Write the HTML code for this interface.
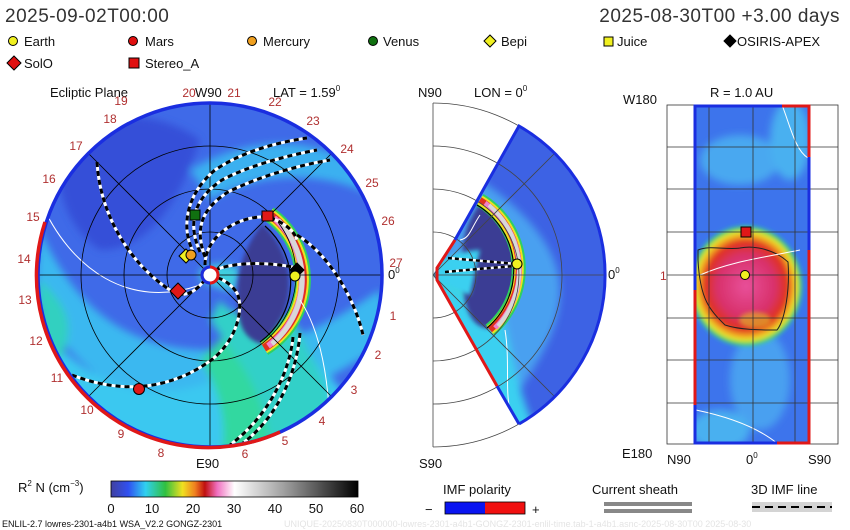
<!DOCTYPE html>
<html><head><meta charset="utf-8"><style>
body{margin:0;background:#fff;}
svg{display:block;font-family:"Liberation Sans","DejaVu Sans",sans-serif;}
</style></head><body>
<svg width="850" height="530" viewBox="0 0 850 530" xmlns="http://www.w3.org/2000/svg">
<defs>
<filter id="bl" x="-20%" y="-20%" width="140%" height="140%"><feGaussianBlur stdDeviation="4"/></filter>
<filter id="bl2" x="-20%" y="-20%" width="140%" height="140%"><feGaussianBlur stdDeviation="2"/></filter>
<clipPath id="disk"><circle cx="210" cy="275" r="172"/></clipPath>
<clipPath id="wedge"><path d="M433,275 L519,126 A172,172 0 0 1 519,424 Z"/></clipPath>
<clipPath id="rbox"><rect x="694" y="105" width="115" height="339"/></clipPath>
<radialGradient id="blob" cx="0.5" cy="0.5" r="0.5">
<stop offset="0" stop-color="#e8509a"/><stop offset="0.5" stop-color="#d8306a"/><stop offset="0.7" stop-color="#e03020"/><stop offset="0.8" stop-color="#f0a020"/><stop offset="0.88" stop-color="#e8e830"/><stop offset="0.94" stop-color="#30d060"/><stop offset="1" stop-color="#30c8e8" stop-opacity="0"/>
</radialGradient>
<linearGradient id="cb" x1="0" x2="1">
<stop offset="0" stop-color="#4040a0"/><stop offset="0.07" stop-color="#3050f0"/><stop offset="0.14" stop-color="#30d0f0"/><stop offset="0.22" stop-color="#30c040"/><stop offset="0.29" stop-color="#f0e020"/><stop offset="0.34" stop-color="#f08020"/><stop offset="0.38" stop-color="#c01010"/><stop offset="0.43" stop-color="#f070c0"/><stop offset="0.5" stop-color="#ffffff"/><stop offset="0.7" stop-color="#a0a0a0"/><stop offset="1" stop-color="#000"/>
</linearGradient>
</defs>

<text x="5" y="22" font-size="19" fill="#333" letter-spacing="0.5">2025-09-02T00:00</text>
<text x="840" y="22" font-size="19" fill="#333" text-anchor="end" letter-spacing="0.5">2025-08-30T00 +3.00 days</text>

<g font-size="13" fill="#111" stroke="#000" stroke-width="1">
<circle cx="13" cy="41" r="4.5" fill="#f0f020"/><circle cx="133" cy="41" r="4.5" fill="#e01010"/><circle cx="252" cy="41" r="4.5" fill="#f0a020"/><circle cx="373" cy="41" r="4.5" fill="#107010"/>
<path d="M490,35 L496,41 L490,47 L484,41Z" fill="#f0f020"/><rect x="604" y="37" width="9" height="9" fill="#f0f020"/><path d="M730,35 L736,41 L730,47 L724,41Z" fill="#000"/>
<path d="M14,56 L21,63 L14,70 L7,63Z" fill="#e01010"/><rect x="129" y="58" width="10" height="10" fill="#e01010"/>
</g>
<g font-size="13" fill="#111">
<text x="24" y="46">Earth</text><text x="145" y="46">Mars</text><text x="263" y="46">Mercury</text><text x="383" y="46">Venus</text><text x="501" y="46">Bepi</text><text x="617" y="46">Juice</text><text x="737" y="46">OSIRIS-APEX</text>
<text x="24" y="68">SolO</text><text x="145" y="68">Stereo_A</text>
</g>

<g font-size="13" fill="#111">
<text x="50" y="97">Ecliptic Plane</text><text x="195" y="97">W90</text><text x="273" y="97">LAT = 1.59<tspan font-size="8" dy="-6">0</tspan></text>
<text x="418" y="97">N90</text><text x="474" y="97">LON = 0<tspan font-size="8" dy="-6">0</tspan></text>
<text x="623" y="104">W180</text><text x="710" y="97">R = 1.0 AU</text>
<text x="196" y="468">E90</text><text x="419" y="468">S90</text>
<text x="622" y="458">E180</text><text x="667" y="464">N90</text><text x="746" y="464">0<tspan font-size="8" dy="-6">0</tspan></text><text x="808" y="464">S90</text>
<text x="388" y="279">0<tspan font-size="8" dy="-6">0</tspan></text>
<text x="608" y="279">0<tspan font-size="8" dy="-6">0</tspan></text>
</g>

<!-- LEFT DISK -->
<g clip-path="url(#disk)">
<rect x="30" y="100" width="360" height="360" fill="#3f6ae8"/>
<g filter="url(#bl)">
<path d="M40,230 C80,320 140,350 210,350 C280,350 320,330 380,290 L390,340 C330,380 260,420 180,410 C110,400 60,350 35,300Z" fill="#3ab8f0"/>
<path d="M45,330 C100,400 180,410 250,360 C280,330 330,360 360,420 L300,470 L60,470Z" fill="#3ac8f0"/>
<path d="M230,330 C250,380 270,420 290,450 L220,460 C230,420 215,380 200,360Z" fill="#30d8a0"/>
<path d="M190,170 C240,140 310,130 360,170 L380,200 C330,170 260,170 210,200Z" fill="#3ab0f0"/>
<path d="M220,300 C240,330 280,300 300,330 C310,360 330,380 330,410 L270,440 C260,380 230,350 210,320Z" fill="#30d0c8"/>
<path d="M60,130 C100,110 160,110 200,140 C180,200 150,250 100,250 C70,230 50,190 60,130Z" fill="#3550d8"/>
<path d="M200,270 C215,262 230,262 240,270 L235,290 C225,292 212,285 200,280Z" fill="#40d0e0"/>
<path d="M40,280 C60,300 80,320 60,360 L40,340Z" fill="#30d0c0"/>
</g>
<path d="M262,224 A80,80 0 0 1 262,344 C245,340 238,325 238,305 C236,285 238,255 262,224Z" fill="#3a3c94" filter="url(#bl2)"/>
<g fill="none">
<path d="M269,214 A80,80 0 0 1 264,348" stroke="#30d060" stroke-width="16"/>
<path d="M269,214 A80,80 0 0 1 264,348" stroke="#f0e020" stroke-width="12"/>
<path d="M269,214 A80,80 0 0 1 264,348" stroke="#e03020" stroke-width="8"/>
<path d="M274,218 A82,82 0 0 1 268,346" stroke="#f080c8" stroke-width="6"/>
<path d="M278,220 A85,85 0 0 1 272,344" stroke="#d8d8d8" stroke-width="5"/>
<path d="M265,226 A74,74 0 0 1 260,342" stroke="#000" stroke-width="1.2"/>
</g>
<g fill="none" stroke="#fff" stroke-width="1">
<path d="M40,200 C70,270 130,310 200,285"/>
<path d="M300,300 C320,330 330,380 330,440"/>
</g>
<g fill="none" stroke="#000" stroke-width="0.8">
<circle cx="210" cy="275" r="43"/><circle cx="210" cy="275" r="86"/><circle cx="210" cy="275" r="129"/>
<line x1="38" y1="275" x2="382" y2="275"/><line x1="210" y1="103" x2="210" y2="447"/>
<line x1="88" y1="153" x2="332" y2="397"/><line x1="88" y1="397" x2="332" y2="153"/>
</g>
<g fill="none" stroke-width="3">
<g stroke="#fff">
<path d="M97,162 C100,215 130,265 173,292 C190,300 200,285 205,280"/>
<path d="M72,375 C110,390 160,395 207,363 C235,345 245,310 237,293 C230,282 220,278 212,276"/>
<path d="M195,255 C180,230 185,195 215,170 C245,150 280,142 307,138"/>
<path d="M200,252 C188,225 192,200 222,180 C250,165 290,155 317,150"/>
<path d="M205,257 C195,230 200,210 228,192 C260,176 300,165 330,160"/>
<path d="M205,265 C205,235 240,215 267,217 C285,222 295,232 297,240"/>
<path d="M297,235 C330,255 355,300 363,335"/>
<path d="M215,270 C235,262 265,262 293,267"/>
<path d="M293,337 C290,370 270,415 230,445"/>
<path d="M300,333 C297,370 280,415 243,443"/>
</g>
<g stroke="#000" stroke-dasharray="5,4">
<path d="M97,162 C100,215 130,265 173,292 C190,300 200,285 205,280"/>
<path d="M72,375 C110,390 160,395 207,363 C235,345 245,310 237,293 C230,282 220,278 212,276"/>
<path d="M195,255 C180,230 185,195 215,170 C245,150 280,142 307,138"/>
<path d="M200,252 C188,225 192,200 222,180 C250,165 290,155 317,150"/>
<path d="M205,257 C195,230 200,210 228,192 C260,176 300,165 330,160"/>
<path d="M205,265 C205,235 240,215 267,217 C285,222 295,232 297,240"/>
<path d="M297,235 C330,255 355,300 363,335"/>
<path d="M215,270 C235,262 265,262 293,267"/>
<path d="M293,337 C290,370 270,415 230,445"/>
<path d="M300,333 C297,370 280,415 243,443"/>
</g>
</g>
</g>
<circle cx="210" cy="275" r="172" fill="none" stroke="#1a2ee0" stroke-width="3.5"/>
<path d="M45,222 A172,172 0 0 0 280,432" fill="none" stroke="#e01818" stroke-width="3.5"/>
<circle cx="210" cy="275" r="8" fill="#fff" stroke="#e01818" stroke-width="3"/>
<path d="M210,267 A8,8 0 0 0 210,283" fill="none" stroke="#1a2ee0" stroke-width="3"/>
<g stroke="#000" stroke-width="1">
<path d="M186,249 L193,256 L186,263 L179,256Z" fill="#f0f020"/>
<circle cx="191" cy="255" r="5" fill="#f0a020"/>
<rect x="190" y="210" width="10" height="10" fill="#107010"/>
<rect x="262" y="211" width="11" height="10" fill="#e01818"/>
<path d="M178,283 L186,291 L178,299 L170,291Z" fill="#e01818"/>
<circle cx="139" cy="389" r="5.5" fill="#e01818"/>
<path d="M297,263 L304,270 L297,277 L290,270Z" fill="#000"/>
<circle cx="295" cy="276" r="5" fill="#f0f020"/>
</g>
<g font-size="12" fill="#b03030" text-anchor="middle">
<text x="121" y="105">19</text><text x="189" y="97">20</text><text x="234" y="97">21</text><text x="275" y="106">22</text><text x="313" y="125">23</text><text x="347" y="153">24</text><text x="372" y="187">25</text><text x="388" y="225">26</text><text x="396" y="267">27</text>
<text x="393" y="320">1</text><text x="378" y="359">2</text><text x="354" y="394">3</text><text x="322" y="425">4</text><text x="285" y="445">5</text><text x="245" y="458">6</text><text x="161" y="457">8</text><text x="121" y="438">9</text><text x="87" y="414">10</text><text x="57" y="382">11</text><text x="36" y="345">12</text><text x="25" y="304">13</text><text x="24" y="263">14</text><text x="33" y="221">15</text><text x="49" y="183">16</text><text x="76" y="150">17</text><text x="110" y="123">18</text>
</g>

<!-- MIDDLE WEDGE -->
<g fill="none" stroke="#444" stroke-width="0.8">
<path d="M433,232 A43,43 0 0 1 433,318"/><path d="M433,189 A86,86 0 0 1 433,361"/><path d="M433,146 A129,129 0 0 1 433,404"/><path d="M433,103 A172,172 0 0 1 433,447"/>
<line x1="433" y1="103" x2="433" y2="447"/>
</g>
<g clip-path="url(#wedge)">
<rect x="430" y="100" width="180" height="350" fill="#3d62e4"/>
<g filter="url(#bl)">
<path d="M433,275 L480,180 C540,220 560,260 560,290 C560,330 540,360 500,420 L433,280Z" fill="#48a0f0"/>
<path d="M433,275 L500,300 C510,350 520,400 540,440 L470,440 Z" fill="#3ad0f0"/>
<path d="M433,275 L470,250 L470,300Z" fill="#40d8d0"/>
</g>
<path d="M480,203 A79,79 0 0 1 490,328 C470,330 460,300 465,275 C460,250 462,230 480,203Z" fill="#3a3c94" filter="url(#bl2)"/>
<path d="M436,262 C450,255 470,250 480,250 L470,295 C455,290 445,285 436,280Z" fill="#3ad0f0" filter="url(#bl2)"/>
<g fill="none">
<path d="M480,200 A80,80 0 0 1 490,330" stroke="#30d060" stroke-width="14"/>
<path d="M480,200 A80,80 0 0 1 490,330" stroke="#f0e020" stroke-width="10"/>
<path d="M480,200 A80,80 0 0 1 490,330" stroke="#e03020" stroke-width="6"/>
<path d="M485,203 A82,82 0 0 1 495,328" stroke="#f080c8" stroke-width="5"/>
<path d="M489,205 A85,85 0 0 1 498,326" stroke="#d8d8d8" stroke-width="4"/>
<path d="M477,205 A76,76 0 0 1 487,328" stroke="#000" stroke-width="1.2"/>
<path d="M480,215 C470,230 470,238 460,240" stroke="#fff" stroke-width="1"/>
<path d="M505,330 C510,360 505,390 510,410" stroke="#fff" stroke-width="1"/>
</g>
<g fill="none" stroke="#444" stroke-width="0.8">
<path d="M433,232 A43,43 0 0 1 433,318"/><path d="M433,189 A86,86 0 0 1 433,361"/><path d="M433,146 A129,129 0 0 1 433,404"/>
<line x1="433" y1="275" x2="610" y2="275"/><line x1="433" y1="275" x2="560" y2="148"/><line x1="433" y1="275" x2="560" y2="402"/>
</g>
<g fill="none" stroke-width="2.5">
<path d="M448,258 C470,260 495,262 517,264" stroke="#fff"/><path d="M448,258 C470,260 495,262 517,264" stroke="#000" stroke-dasharray="4,3"/>
<path d="M445,272 C465,270 490,268 515,266" stroke="#fff"/><path d="M445,272 C465,270 490,268 515,266" stroke="#000" stroke-dasharray="4,3"/>
</g>
</g>
<path d="M455,240 L519,126 A172,172 0 0 1 519,424" fill="none" stroke="#1a2ee0" stroke-width="3"/>
<path d="M519,424 L497,386" fill="none" stroke="#1a2ee0" stroke-width="3"/>
<path d="M455,240 L437,268 L437,280 L497,386" fill="none" stroke="#e01818" stroke-width="3"/>
<circle cx="517" cy="264" r="5" fill="#f0f020" stroke="#000"/>

<!-- RIGHT PANEL -->
<g clip-path="url(#rbox)">
<rect x="694" y="105" width="115" height="339" fill="#3d74ec"/>
<g filter="url(#bl)">
<ellipse cx="740" cy="160" rx="40" ry="25" fill="#48a8f0"/>
<ellipse cx="790" cy="140" rx="20" ry="40" fill="#48b0f0"/>
<ellipse cx="760" cy="380" rx="30" ry="50" fill="#48a0f0"/>
<ellipse cx="720" cy="430" rx="30" ry="20" fill="#48b0f0"/>
</g>
<ellipse cx="746" cy="286" rx="58" ry="62" fill="url(#blob)" filter="url(#bl2)"/>
<ellipse cx="755" cy="320" rx="16" ry="8" fill="#e0c020" opacity="0.6" filter="url(#bl2)"/>
<path d="M698,250 C710,245 725,250 740,248 C755,245 775,250 788,262 C790,290 785,320 777,330 C760,330 740,330 725,325 C710,310 700,300 698,260Z" fill="none" stroke="#222" stroke-width="1"/>
<path d="M700,275 C730,262 760,258 800,250" fill="none" stroke="#fff" stroke-width="1"/>
<path d="M782,105 C790,125 795,150 808,158" fill="none" stroke="#fff" stroke-width="1"/>
<path d="M696,410 C720,415 755,425 778,444" fill="none" stroke="#fff" stroke-width="1"/>
</g>
<g stroke="#333" stroke-width="0.8" fill="none">
<rect x="667" y="105" width="171" height="339"/>
<line x1="667" y1="147" x2="838" y2="147"/><line x1="667" y1="189" x2="838" y2="189"/><line x1="667" y1="232" x2="838" y2="232"/><line x1="667" y1="275" x2="838" y2="275"/><line x1="667" y1="318" x2="838" y2="318"/><line x1="667" y1="360" x2="838" y2="360"/><line x1="667" y1="403" x2="838" y2="403"/>
<line x1="709" y1="105" x2="709" y2="444"/><line x1="753" y1="105" x2="753" y2="444"/><line x1="795" y1="105" x2="795" y2="444"/>
</g>
<g fill="none" stroke-width="3">
<path d="M695,290 L695,106 L782,106" stroke="#1a2ee0"/>
<path d="M782,106 L809,106 L809,157" stroke="#e01818"/>
<path d="M809,157 L809,250" stroke="#1a2ee0"/>
<path d="M809,250 L809,443 L777,443" stroke="#e01818"/>
<path d="M777,443 L695,443 L695,405" stroke="#1a2ee0"/>
<path d="M695,405 L695,290" stroke="#e01818"/>
</g>
<rect x="741" y="227" width="10" height="10" fill="#e01818" stroke="#000"/>
<circle cx="745" cy="275" r="4.5" fill="#f0f020" stroke="#000"/>
<text x="660" y="280" font-size="12" fill="#b03030">1</text>

<!-- COLORBAR -->
<text x="18" y="492" font-size="13" fill="#111">R<tspan font-size="8" dy="-6">2</tspan><tspan dy="6"> N (cm</tspan><tspan font-size="8" dy="-6">−3</tspan><tspan dy="6">)</tspan></text>
<rect x="111" y="481" width="247" height="16" fill="url(#cb)" stroke="#000" stroke-width="0.8"/>
<g font-size="13" fill="#111" text-anchor="middle">
<text x="111" y="513">0</text><text x="152" y="513">10</text><text x="193" y="513">20</text><text x="234" y="513">30</text><text x="275" y="513">40</text><text x="316" y="513">50</text><text x="357" y="513">60</text>
</g>
<text x="443" y="494" font-size="13" fill="#111">IMF polarity</text>
<text x="425" y="514" font-size="13" fill="#111">−</text>
<rect x="445" y="502" width="40" height="12" fill="#0a14f0"/><rect x="485" y="502" width="40" height="12" fill="#f01010"/>
<rect x="445" y="502" width="80" height="12" fill="none" stroke="#000" stroke-width="0.8"/>
<text x="532" y="514" font-size="13" fill="#111">+</text>
<text x="592" y="494" font-size="13" fill="#111">Current sheath</text>
<rect x="604" y="502" width="88" height="4" fill="#888"/><rect x="604" y="509" width="88" height="4" fill="#888"/>
<text x="751" y="494" font-size="13" fill="#111">3D IMF line</text>
<rect x="752" y="502" width="80" height="10" fill="#d4d4d4"/>
<line x1="752" y1="507" x2="832" y2="507" stroke="#000" stroke-width="2" stroke-dasharray="8,5"/>
<text x="2" y="527" font-size="9" fill="#111">ENLIL-2.7 lowres-2301-a4b1 WSA_V2.2 GONGZ-2301</text>
<text x="284" y="527" font-size="9" fill="#e4e4e4">UNIQUE-20250830T000000-lowres-2301-a4b1-GONGZ-2301-enlil-time.tab-1-a4b1.asnc-2025-08-30T00 2025-08-30</text>
</svg>
</body></html>
